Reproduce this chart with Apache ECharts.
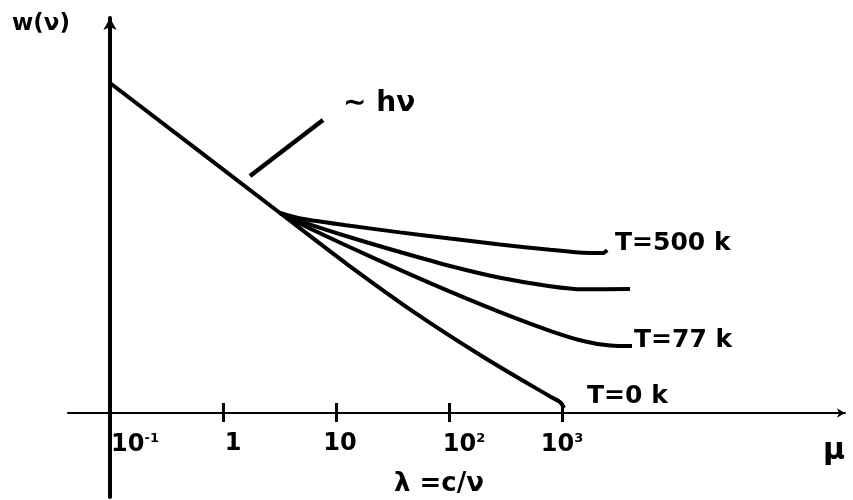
<!DOCTYPE html>
<html><head><meta charset="utf-8">
<script src="https://cdn.jsdelivr.net/npm/echarts@6/dist/echarts.min.js"></script>
<style>html,body{margin:0;padding:0;background:#fff}#c{width:853px;height:500px}</style>
</head><body><div id="c"></div>
<script>
// x = log10(lambda), y = log w (arbitrary units, x-axis at 0)
const tickValues = [-1, 0, 1, 2, 3];
const tickBase = ['10', '1', '10', '10', '10'];
const tickSup = ['-1', '', '', '2', '3'];

const t0X = [-1, 0.504, 1.1, 1.7, 2.3, 2.894, 2.982, 3.018];
const t0Y = [3.793, 2.299, 1.709, 1.151, 0.647, 0.190, 0.126, 0.057];

const t500X = [0.504, 0.70, 1.124, 1.566, 2.009, 2.451, 2.894, 3.186, 3.363, 3.398];
const t500Y = [2.299, 2.232, 2.152, 2.076, 2.005, 1.937, 1.877, 1.842, 1.839, 1.874];

const tMidX = [0.504, 0.708, 1.124, 1.566, 2.009, 2.451, 2.894, 3.186, 3.602];
const tMidY = [2.299, 2.195, 2.020, 1.850, 1.690, 1.555, 1.458, 1.422, 1.425];

const t77X = [0.504, 0.743, 1.124, 1.566, 2.009, 2.451, 2.894, 3.186, 3.425, 3.619];
const t77Y = [2.299, 2.138, 1.905, 1.645, 1.395, 1.160, 0.945, 0.828, 0.776, 0.770];

const pointerX = [0.239, 0.885];
const pointerY = [2.724, 3.368];

const seriesNames = ['T=0 k', 'T=500 k', '', 'T=77 k'];

const FONT = 'DejaVu Sans';
const zip = (xs, ys) => xs.map((x, i) => [x, ys[i]]);

const chart = echarts.init(document.getElementById('c'), null, {renderer: 'canvas'});

function lineSeries(name, xs, ys, labelOffset, distance) {
  return {
    type: 'line', name: name, data: zip(xs, ys), xAxisIndex: 0, yAxisIndex: 0,
    symbol: 'none', smooth: 0.3, silent: true, clip: false,
    lineStyle: {color: '#000', width: 4},
    endLabel: name ? {
      show: true, formatter: name, color: '#000', fontFamily: FONT, fontWeight: 'bold',
      fontSize: 25, distance: distance, offset: labelOffset
    } : {show: false},
    z: 5
  };
}

function tickLabel(v) {
  const n = Number(v);
  let i = -1;
  for (let k = 0; k < tickValues.length; k++) {
    if (Math.abs(tickValues[k] - n) < 1e-6) { i = k; break; }
  }
  if (i < 0) return '';
  const base = '{b' + i + '|' + tickBase[i] + '}';
  return tickSup[i] ? base + '{sup|' + tickSup[i] + '}' : base;
}

const labelStyle = (padLeft) => ({fontFamily: FONT, fontWeight: 'bold', fontSize: 24, color: '#000', padding: [0, 0, 0, padLeft]});

const s0 = lineSeries(seriesNames[0], t0X, t0Y, [15, -12], 8);
s0.markLine = {
  silent: true, symbol: ['none', 'none'],
  lineStyle: {color: '#000', width: 4.5, type: 'solid'},
  label: {show: false},
  data: [[{coord: [pointerX[0], pointerY[0]]}, {coord: [pointerX[1], pointerY[1]]}]]
};

const XMIN = -1.3717, XMAX = 5.504;

const option = {
  animation: false,
  backgroundColor: '#fff',
  grid: [
    {left: 68, right: 8, top: 18, bottom: 87, containLabel: false, outerBoundsMode: 'none'},
    {left: 68, right: 8, top: 413, bottom: 3, containLabel: false, outerBoundsMode: 'none'}
  ],
  xAxis: [{
    gridIndex: 0, type: 'value', min: XMIN, max: XMAX, position: 'bottom',
    axisLine: {show: true, onZero: false, lineStyle: {color: '#000', width: 2},
      symbol: ['none', 'arrow'], symbolSize: [7, 8]},
    axisTick: {show: true, customValues: tickValues, length: 9, inside: false,
      lineStyle: {color: '#000', width: 3}},
    axisLabel: {show: true, customValues: tickValues, margin: 19, color: '#000',
      showMinLabel: true, showMaxLabel: true, hideOverlap: false,
      fontFamily: FONT, fontWeight: 'bold', fontSize: 24,
      formatter: tickLabel,
      rich: {
        b0: labelStyle(50),
        b1: labelStyle(20),
        b2: labelStyle(8),
        b3: labelStyle(30),
        b4: labelStyle(0),
        sup: {fontFamily: FONT, fontWeight: 'bold', fontSize: 13, color: '#000', verticalAlign: 'top', padding: [0, 0, 12, 0]}
      }
    },
    splitLine: {show: false}
  }, {
    gridIndex: 0, type: 'value', min: XMIN, max: XMAX, position: 'bottom',
    axisLine: {show: false, onZero: false},
    axisTick: {show: true, customValues: tickValues, length: 10, inside: true,
      lineStyle: {color: '#000', width: 3}},
    axisLabel: {show: false},
    splitLine: {show: false}
  }, {
    gridIndex: 1, type: 'value', min: XMIN, max: XMAX, show: false
  }],
  yAxis: [{
    gridIndex: 0, type: 'value', min: 0, max: 4.540, position: 'left', offset: -42,
    axisLine: {show: true, onZero: false, lineStyle: {color: '#000', width: 4},
      symbol: ['none', 'arrow'], symbolSize: [10, 12]},
    axisTick: {show: false}, axisLabel: {show: false}, splitLine: {show: false}
  }, {
    gridIndex: 1, type: 'value', min: 0, max: 1, position: 'left', offset: -42,
    axisLine: {show: true, onZero: false, lineStyle: {color: '#000', width: 4}},
    axisTick: {show: false}, axisLabel: {show: false}, splitLine: {show: false}
  }],
  graphic: [
    {type: 'text', left: 12, top: 13, style: {text: 'w(ν)', fontFamily: FONT, fontWeight: 'bold', fontSize: 23, fill: '#000'}},
    {type: 'text', left: 343, top: 90, style: {text: '∼ hν', fontFamily: FONT, fontWeight: 'bold', fontSize: 28, fill: '#000'}},
    {type: 'text', left: 394, top: 471, style: {text: 'λ =c/ν', fontFamily: FONT, fontWeight: 'bold', fontSize: 26, fill: '#000'}},
    {type: 'text', left: 823, top: 436, style: {text: 'μ', fontFamily: FONT, fontWeight: 'bold', fontSize: 30, fill: '#000'}}
  ],
  series: [
    s0,
    lineSeries(seriesNames[1], t500X, t500Y, [0, -6], 8),
    lineSeries(seriesNames[2], tMidX, tMidY, [0, 0], 8),
    lineSeries(seriesNames[3], t77X, t77Y, [-3, -6], 5)
  ]
};
chart.setOption(option);
</script>
</body></html>
